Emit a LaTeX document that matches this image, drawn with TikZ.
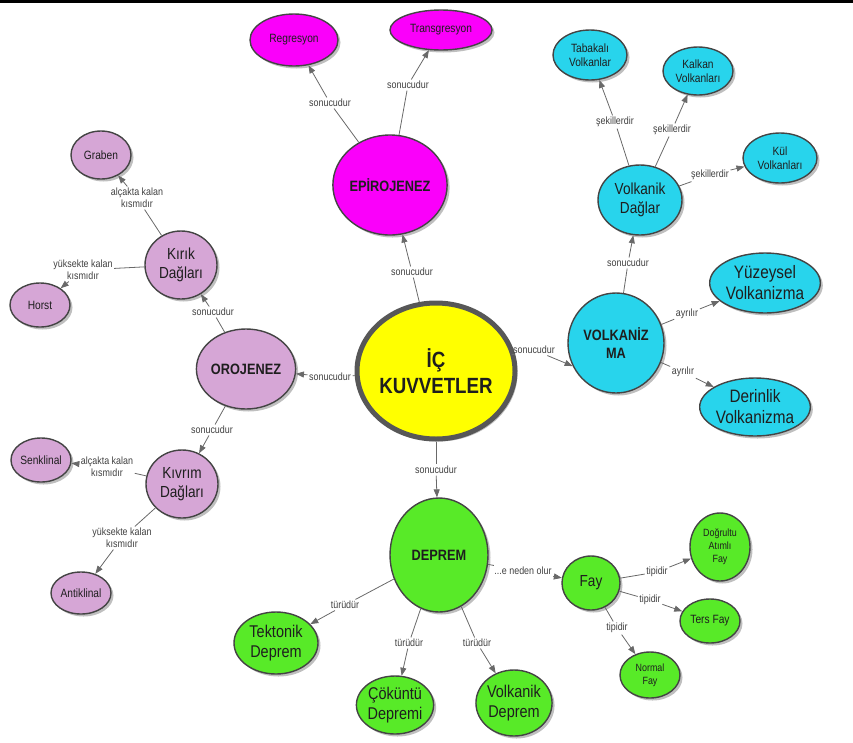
\documentclass[tikz,border=0pt]{standalone}
\usepackage{fontspec}
\setmainfont{Liberation Sans}[FakeStretch=0.85]
\usetikzlibrary{shapes.geometric,shadows,arrows.meta}

\definecolor{cmyellow}{RGB}{255,255,0}
\definecolor{cmmagenta}{RGB}{250,0,250}
\definecolor{cmcyan}{RGB}{40,212,236}
\definecolor{cmlilac}{RGB}{214,166,214}
\definecolor{cmgreen}{RGB}{88,234,40}
\definecolor{rimgray}{RGB}{68,68,68}
\definecolor{edgegray}{RGB}{105,105,105}
\definecolor{textdark}{RGB}{30,30,30}

\begin{document}
\begin{tikzpicture}[x=1pt,y=-1pt,
  concept/.style={ellipse, draw=rimgray, line width=1.4pt, inner sep=0pt,
    align=center, text=textdark,
    drop shadow={shadow xshift=2.5pt,shadow yshift=-2.5pt,fill=black!50}},
  rad/.style 2 args={minimum width=2*#1, minimum height=2*#2},
  small/.style={font=\fontsize{12}{14}\selectfont},
  tiny/.style={font=\fontsize{10.5}{13}\selectfont},
  mid/.style={font=\fontsize{16}{19}\selectfont},
  large/.style={font=\fontsize{18}{21}\selectfont},
  quake/.style={font=\fontsize{17}{20}\selectfont},
  heavy/.style={font=\bfseries\fontsize{15}{18}\selectfont},
  linklbl/.style={font=\fontsize{10.5}{12}\selectfont, text=textdark!85,
    inner sep=1.5pt, align=center},
  link/.style={draw=edgegray, line width=0.8pt},
  linkarrow/.style={link, -{Triangle[length=8pt,width=6pt]}},
]
\useasboundingbox (0,0) rectangle (853,742);
\fill[black] (0,0) rectangle (853,2.5);

% centre
\node[concept, fill=cmyellow, draw=rimgray!90, line width=5pt, rad={79}{68},
  inner xsep=-2pt,
  font=\bfseries\fontsize{22}{26}\selectfont] (ic) at (436,371) {İÇ\\KUVVETLER};

% epirogeny branch
\node[concept, fill=cmmagenta, rad={55}{50}, heavy] (epi) at (390,185) {EPİROJENEZ};
\node[concept, fill=cmmagenta, rad={44}{26}, small] (reg) at (294,40) {Regresyon};
\node[concept, fill=cmmagenta, rad={51}{20}, small] (tra) at (441,30) {Transgresyon};

% volcanism branch
\node[concept, fill=cmcyan, rad={48}{50}, heavy] (volk) at (616,343) {VOLKANİZ\\MA};
\node[concept, fill=cmcyan, rad={42}{35}, mid] (vd) at (640,200) {Volkanik\\Dağlar};
\node[concept, fill=cmcyan, rad={37}{25}, small] (tab) at (590,55) {Tabakalı\\Volkanlar};
\node[concept, fill=cmcyan, rad={35}{24}, small] (kal) at (698,71) {Kalkan\\Volkanları};
\node[concept, fill=cmcyan, rad={37}{25}, small] (kul) at (780,158) {Kül\\Volkanları};
\node[concept, fill=cmcyan, rad={52}{30}, large] (yuz) at (765,283) {Yüzeysel\\Volkanizma};
\node[concept, fill=cmcyan, rad={52}{29}, large] (der) at (755,407) {Derinlik\\Volkanizma};

% orogeny branch
\node[concept, fill=cmlilac, rad={46}{40}, heavy] (oro) at (246,369) {OROJENEZ};
\node[concept, fill=cmlilac, rad={36}{34}, mid] (kirik) at (181,265) {Kırık\\Dağları};
\node[concept, fill=cmlilac, rad={30}{24}, small] (grab) at (101,155) {Graben};
\node[concept, fill=cmlilac, rad={30}{22}, small] (horst) at (40,305) {Horst};
\node[concept, fill=cmlilac, rad={36}{34}, mid] (kivrim) at (182,484) {Kıvrım\\Dağları};
\node[concept, fill=cmlilac, rad={30}{22}, small] (senk) at (41,460) {Senklinal};
\node[concept, fill=cmlilac, rad={30}{21}, small] (anti) at (81,593) {Antiklinal};

% earthquake branch
\node[concept, fill=cmgreen, rad={49}{57}, heavy] (dep) at (439,555) {DEPREM};
\node[concept, fill=cmgreen, rad={42}{31}, quake] (tek) at (276,643) {Tektonik\\Deprem};
\node[concept, fill=cmgreen, rad={38}{29}, quake] (cok) at (395,705) {Çöküntü\\Depremi};
\node[concept, fill=cmgreen, rad={36}{33}, quake] (vdep) at (514,703) {Volkanik\\Deprem};
\node[concept, fill=cmgreen, rad={29}{27}, mid] (fay) at (591,583) {Fay};
\node[concept, fill=cmgreen, rad={30}{34}, tiny] (dog) at (720,547) {Doğrultu\\Atımlı\\Fay};
\node[concept, fill=cmgreen, rad={30}{22}, small] (ters) at (710,621) {Ters Fay};
\node[concept, fill=cmgreen, rad={30}{23}, tiny] (norm) at (650,675) {Normal\\Fay};

% link labels
\node[linklbl] (l1) at (412,272) {sonucudur};
\node[linklbl] (l2) at (330,103) {sonucudur};
\node[linklbl] (l3) at (408,85) {sonucudur};
\node[linklbl] (l4) at (534,350) {sonucudur};
\node[linklbl] (l5) at (628,263) {sonucudur};
\node[linklbl] (l6) at (615,122) {şekillerdir};
\node[linklbl] (l7) at (672,130) {şekillerdir};
\node[linklbl] (l8) at (710,175) {şekillerdir};
\node[linklbl] (l9) at (687,314) {ayrılır};
\node[linklbl] (l10) at (683,372) {ayrılır};
\node[linklbl] (l11) at (330,377) {sonucudur};
\node[linklbl] (l12) at (213,312) {sonucudur};
\node[linklbl] (l13) at (137,198) {alçakta kalan\\kısmıdır};
\node[linklbl] (l14) at (83,270) {yüksekte kalan\\kısmıdır};
\node[linklbl] (l15) at (212,430) {sonucudur};
\node[linklbl] (l16) at (107,467) {alçakta kalan\\kısmıdır};
\node[linklbl] (l17) at (122,538) {yüksekte kalan\\kısmıdır};
\node[linklbl] (l18) at (436,470) {sonucudur};
\node[linklbl] (l19) at (345,605) {türüdür};
\node[linklbl] (l20) at (409,643) {türüdür};
\node[linklbl] (l21) at (477,643) {türüdür};
\node[linklbl] (l22) at (523,571) {...e neden olur};
\node[linklbl] (l23) at (657,572) {tipidir};
\node[linklbl] (l24) at (650,600) {tipidir};
\node[linklbl] (l25) at (617,628) {tipidir};

% connectors: source -- label, label -> target
\foreach \src/\lbl/\dst in {ic/l1/epi, epi/l2/reg, epi/l3/tra,
    ic/l4/volk.208, volk/l5/vd, vd/l6/tab, vd/l7/kal, vd/l8/kul,
    volk/l9/yuz, volk/l10/der,
    ic/l11/oro, oro/l12/kirik, kirik/l13/grab, kirik/l14/horst,
    oro/l15/kivrim, kivrim/l16/senk, kivrim/l17/anti,
    ic/l18/dep, dep/l19/tek, dep/l20/cok, dep/l21/vdep,
    dep/l22/fay, fay/l23/dog, fay/l24/ters, fay/l25/norm}{
  \draw[link] (\src) -- (\lbl);
  \draw[linkarrow] (\lbl) -- (\dst);
}
\end{tikzpicture}
\end{document}
